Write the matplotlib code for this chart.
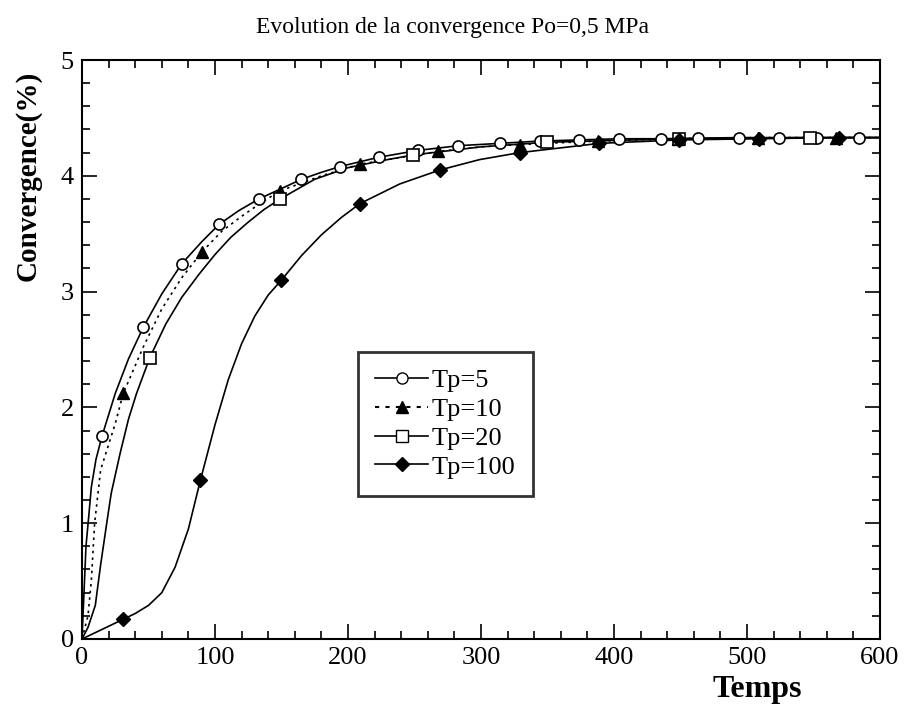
import numpy as np
import matplotlib
matplotlib.use("Agg")
import matplotlib.pyplot as plt
from matplotlib.ticker import MultipleLocator

plt.rcParams['font.family'] = ['Liberation Serif', 'DejaVu Serif']

# marqueurs
t5 = [15, 46, 75, 103, 133, 165, 194, 223, 253, 283, 314, 344, 374, 404, 435, 463, 494, 524, 553, 584]
c5 = [1.75, 2.69, 3.24, 3.58, 3.80, 3.97, 4.08, 4.16, 4.22, 4.26, 4.28, 4.30, 4.31, 4.32, 4.32, 4.33, 4.33, 4.33, 4.33, 4.33]
t10 = [31, 90, 149, 209, 268, 329, 388, 448, 508, 567]
c10 = [2.12, 3.34, 3.87, 4.10, 4.21, 4.27, 4.30, 4.32, 4.33, 4.33]
t20 = [51, 149, 249, 350, 449, 547]
c20 = [2.43, 3.80, 4.18, 4.29, 4.32, 4.33]
t100 = [31, 89, 150, 209, 269, 329, 389, 449, 509, 569]
c100 = [0.17, 1.37, 3.10, 3.76, 4.05, 4.20, 4.28, 4.31, 4.32, 4.33]

# traces des courbes
lt5 = [0, 1.5, 3, 5, 7, 10.5, 15, 25, 35, 46, 60, 75, 90, 103, 118, 133, 150, 165, 180, 194, 223, 253, 283, 314, 344, 374, 404, 435, 494, 553, 600]
lc5 = [0, 0.4, 0.8, 1.05, 1.31, 1.55, 1.75, 2.12, 2.42, 2.69, 2.98, 3.24, 3.43, 3.58, 3.70, 3.80, 3.89, 3.97, 4.03, 4.08, 4.16, 4.22, 4.26, 4.28, 4.30, 4.31, 4.32, 4.32, 4.33, 4.33, 4.33]
lt10 = [0, 4.5, 7, 9.5, 14, 19.5, 25, 31, 46, 60, 75, 90, 105, 120, 135, 149, 180, 209, 240, 268, 300, 329, 388, 448, 508, 567, 600]
lc10 = [0, 0.2, 0.5, 1.0, 1.46, 1.66, 1.86, 2.12, 2.52, 2.85, 3.12, 3.34, 3.52, 3.65, 3.77, 3.87, 4.00, 4.10, 4.16, 4.21, 4.25, 4.27, 4.30, 4.32, 4.33, 4.33, 4.33]
lt20 = [0, 4.5, 10, 14, 19.5, 22, 28.6, 35, 41, 51, 63, 75, 88, 100, 112, 125, 137, 149, 175, 200, 225, 249, 300, 350, 449, 547, 600]
lc20 = [0, 0.1, 0.29, 0.64, 1.07, 1.26, 1.6, 1.9, 2.12, 2.43, 2.72, 2.95, 3.15, 3.32, 3.47, 3.60, 3.71, 3.80, 3.97, 4.07, 4.13, 4.18, 4.25, 4.29, 4.32, 4.33, 4.33]
lt100 = [0, 31, 40, 50, 60, 70, 80, 89, 100, 110, 120, 130, 140, 150, 165, 180, 195, 209, 239, 269, 299, 329, 389, 449, 509, 569, 600]
lc100 = [0, 0.17, 0.22, 0.29, 0.40, 0.62, 0.95, 1.37, 1.85, 2.24, 2.55, 2.79, 2.97, 3.10, 3.31, 3.49, 3.64, 3.76, 3.93, 4.05, 4.14, 4.20, 4.28, 4.31, 4.32, 4.33, 4.33]

fig = plt.figure(figsize=(9.06, 7.11), dpi=100)
ax = fig.add_axes([0.0905, 0.1013, 0.8808, 0.8143])

ax.plot(lt5, lc5, color='black', lw=1.2)
ax.plot(lt10, lc10, color='black', lw=1.2, ls=(0, (1.5, 2.5)))
ax.plot(lt20, lc20, color='black', lw=1.2)
ax.plot(lt100, lc100, color='black', lw=1.2)

ax.plot(t5, c5, 'o', mfc='white', mec='black', ms=8, mew=1.2)
ax.plot(t10, c10, '^', color='black', ms=8)
ax.plot(t20, c20, 's', mfc='white', mec='black', ms=8, mew=1.2)
ax.plot(t100, c100, 'D', color='black', ms=7)

# poignees de legende
h5, = ax.plot([], [], color='black', lw=1.2, marker='o', mfc='white', mec='black', ms=8)
h10, = ax.plot([], [], color='black', lw=1.5, ls=(0, (2, 3)), marker='^', ms=8)
h20, = ax.plot([], [], color='black', lw=1.2, marker='s', mfc='white', mec='black', ms=8)
h100, = ax.plot([], [], color='black', lw=1.2, marker='D', ms=7)
leg = ax.legend([h5, h10, h20, h100], ['Tp=5', 'Tp=10', 'Tp=20', 'Tp=100'],
                loc='upper left', bbox_to_anchor=(0.346, 0.496), fontsize=19,
                frameon=True, fancybox=False, edgecolor='black', handlelength=2.0,
                handletextpad=0.15, labelspacing=0.2, borderpad=0.65, borderaxespad=0)
leg.get_frame().set_linewidth(2)

ax.set_xlim(0, 600)
ax.set_ylim(0, 5)
ax.xaxis.set_major_locator(MultipleLocator(100))
ax.xaxis.set_minor_locator(MultipleLocator(20))
ax.yaxis.set_major_locator(MultipleLocator(1))
ax.yaxis.set_minor_locator(MultipleLocator(0.2))
ax.tick_params(which='both', direction='in', top=True, right=True, width=1.2, labelsize=19)
ax.tick_params(which='major', length=11, pad=6)
ax.tick_params(which='minor', length=6)
for s in ax.spines.values():
    s.set_linewidth(1.5)

fig.text(0.5, 0.962, 'Evolution de la convergence Po=0,5 MPa', fontsize=17, ha='center', va='center')
ax.set_ylabel('Convergence(%)', fontsize=21, fontweight='bold')
ax.yaxis.set_label_coords(-0.05, 0.8)
ax.set_xlabel('Temps', fontsize=23, fontweight='bold')
ax.xaxis.set_label_coords(0.846, -0.062)

fig.savefig('out.png', dpi=100)
